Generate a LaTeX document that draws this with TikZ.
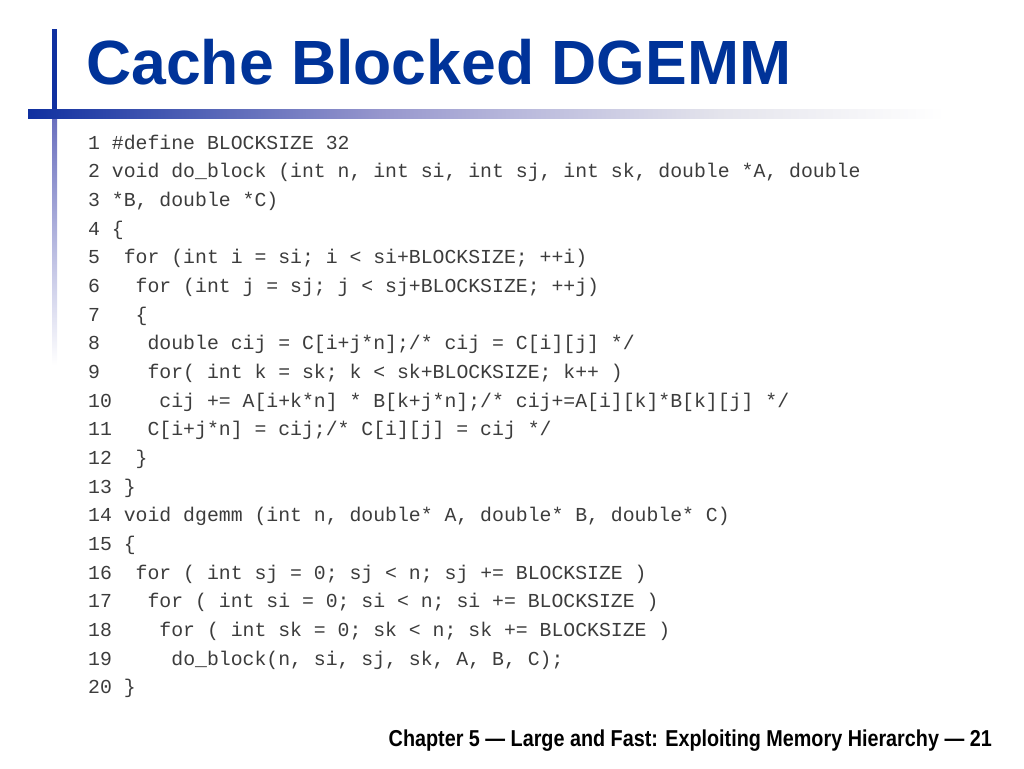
\documentclass[tikz,border=0pt]{standalone}
\usepackage{fontspec}
\setmainfont{Liberation Sans}
\setmonofont{Liberation Mono}
\newfontfamily\footfont[FakeStretch=0.86]{Liberation Sans}
\usetikzlibrary{positioning}
\definecolor{titleblue}{RGB}{0,51,153}
\definecolor{barA}{RGB}{16,48,160}
\definecolor{barB}{RGB}{150,150,205}
\definecolor{barC}{RGB}{185,185,220}
\definecolor{barD}{RGB}{228,228,236}
\definecolor{vbarlow}{RGB}{105,110,190}
\definecolor{codegray}{RGB}{60,60,60}

\begin{document}
\begin{tikzpicture}[x=1pt,y=-1pt]
		\tikzset{codeline/.style={anchor=base west, inner sep=0pt, font=\ttfamily\fontsize{19.8}{20}\selectfont, text=codegray}}
		\useasboundingbox (0,0) rectangle (1024,768);
		% bars
		\fill [barA] (52,29) rectangle (57,110);
		\shade [top color=vbarlow, bottom color=white] (52,117) rectangle (57,365);
		\shade [left color=barA, right color=barB] (28,109) rectangle (380,118);
		\shade [left color=barB, right color=barC] (379.5,109) rectangle (520,118);
		\shade [left color=barC, right color=barD] (519.5,109) rectangle (720,118);
		\shade [left color=barD, right color=white] (719.5,109) rectangle (945,118);
		% title
		\node [anchor=base west, inner sep=0pt, font=\bfseries\fontsize{62.5}{63}\selectfont, text=titleblue] (title) at (86,84) {Cache Blocked DGEMM};
		% code
		\node [codeline] (l1) at (88,149) {1~\#define BLOCKSIZE 32};
		\node [codeline] (l2) at (88,177.7) {2~void do\_block (int n, int si, int sj, int sk, double *A, double};
		\node [codeline] (l3) at (88,206.4) {3~*B, double *C)};
		\node [codeline] (l4) at (88,235.0) {4~\{};
		\node [codeline] (l5) at (88,263.7) {5~~for (int i = si; i < si+BLOCKSIZE; ++i)};
		\node [codeline] (l6) at (88,292.4) {6~~~for (int j = sj; j < sj+BLOCKSIZE; ++j)};
		\node [codeline] (l7) at (88,321.1) {7~~~\{};
		\node [codeline] (l8) at (88,349.8) {8~~~~double cij = C[i+j*n];/* cij = C[i][j] */};
		\node [codeline] (l9) at (88,378.4) {9~~~~for( int k = sk; k < sk+BLOCKSIZE; k++ )};
		\node [codeline] (l10) at (88,407.1) {10~~~~cij += A[i+k*n] * B[k+j*n];/* cij+=A[i][k]*B[k][j] */};
		\node [codeline] (l11) at (88,435.8) {11~~~C[i+j*n] = cij;/* C[i][j] = cij */};
		\node [codeline] (l12) at (88,464.5) {12~~\}};
		\node [codeline] (l13) at (88,493.2) {13~\}};
		\node [codeline] (l14) at (88,521.8) {14~void dgemm (int n, double* A, double* B, double* C)};
		\node [codeline] (l15) at (88,550.5) {15~\{};
		\node [codeline] (l16) at (88,579.2) {16~~for ( int sj = 0; sj < n; sj += BLOCKSIZE )};
		\node [codeline] (l17) at (88,607.9) {17~~~for ( int si = 0; si < n; si += BLOCKSIZE )};
		\node [codeline] (l18) at (88,636.6) {18~~~~for ( int sk = 0; sk < n; sk += BLOCKSIZE )};
		\node [codeline] (l19) at (88,665.2) {19~~~~~do\_block(n, si, sj, sk, A, B, C);};
		\node [codeline] (l20) at (88,693.9) {20~\}};
		% footer
		\node [anchor=base east, inner sep=0pt, font=\footfont\bfseries\fontsize{23}{23}\selectfont] (foot) at (992,746) {Chapter 5 — Large and Fast: Exploiting Memory Hierarchy — 21};
	\end{tikzpicture}
\end{document}
